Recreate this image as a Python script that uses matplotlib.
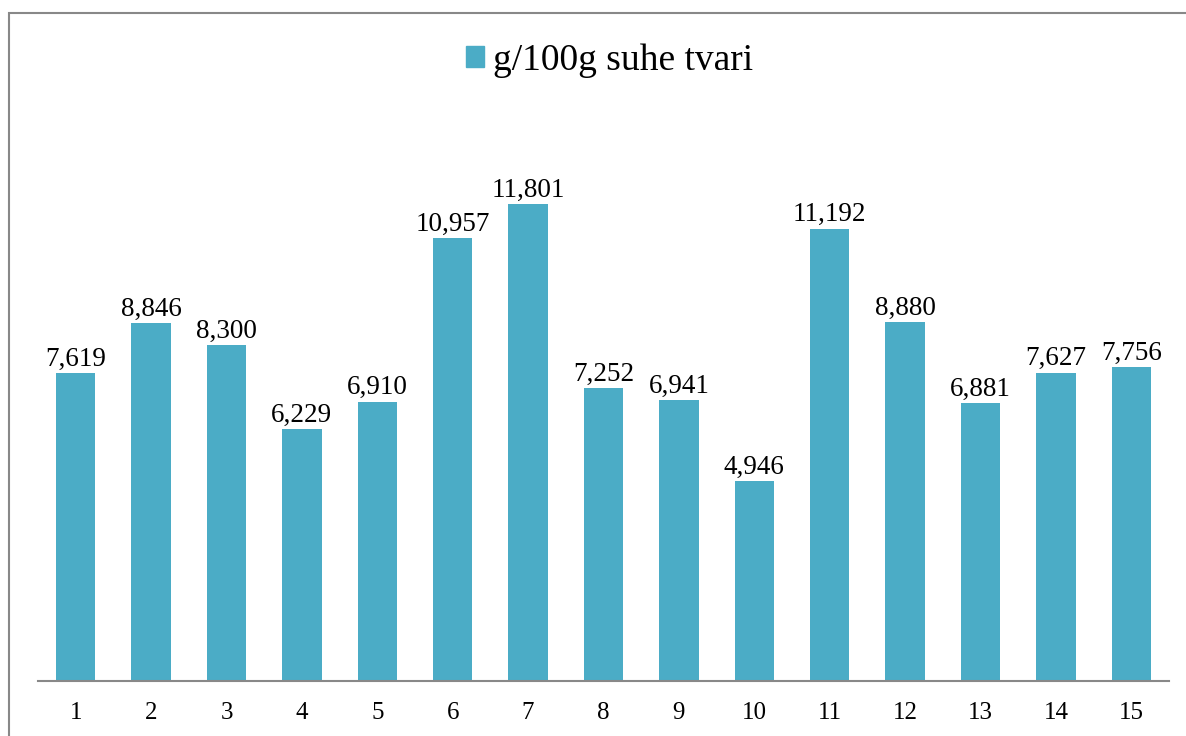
import matplotlib
matplotlib.use("Agg")
import matplotlib.pyplot as plt
import matplotlib.patches as mpatches

# data
samples = [str(i) for i in range(1, 16)]
values = [7.619, 8.846, 8.300, 6.229, 6.910, 10.957, 11.801, 7.252,
          6.941, 4.946, 11.192, 8.880, 6.881, 7.627, 7.756]
series_name = "g/100g suhe tvari"

BAR_COLOR = "#4BACC6"
GREY = "#888888"

plt.rcParams["font.family"] = ["Liberation Serif", "DejaVu Serif"]

W, H = 1186, 736
fig = plt.figure(figsize=(W / 100, H / 100), dpi=100)

# axes placed in pixel terms: x 38..1169, baseline at y=681, top at y=115
ax = fig.add_axes([38 / W, (H - 681) / H, (1169 - 38) / W, (681 - 115) / H])
x = list(range(len(samples)))
bars = ax.bar(x, values, width=0.52, color=BAR_COLOR, label=series_name)

labels = [f"{v:.3f}".replace(".", ",") for v in values]
ax.bar_label(bars, labels=labels, padding=1, fontsize=19.5, color="black")

ax.set_xlim(-0.5, len(samples) - 0.5)
ax.set_ylim(0, 14)
ax.set_xticks(x)
ax.set_xticklabels(samples, fontsize=18)
ax.tick_params(axis="x", length=0, pad=15)
ax.set_yticks([])
for side in ("top", "right", "left"):
    ax.spines[side].set_visible(False)
ax.spines["bottom"].set_color(GREY)
ax.spines["bottom"].set_linewidth(1.5)

fig.legend(handles=[mpatches.Patch(color=BAR_COLOR, label=series_name)],
           loc="center", bbox_to_anchor=(0.514, 1 - 61 / H), frameon=False,
           fontsize=27, handlelength=0.48, handleheight=0.48, handletextpad=0.25)

# chart-area border (left and top visible, runs off the image otherwise)
border = mpatches.Rectangle((9 / W, -0.05), 1.2, 1 - 13 / H + 0.05,
                            transform=fig.transFigure, fill=False,
                            edgecolor=GREY, linewidth=1.5, clip_on=False)
fig.patches.append(border)

fig.savefig("out.png", dpi=100, facecolor="white")
